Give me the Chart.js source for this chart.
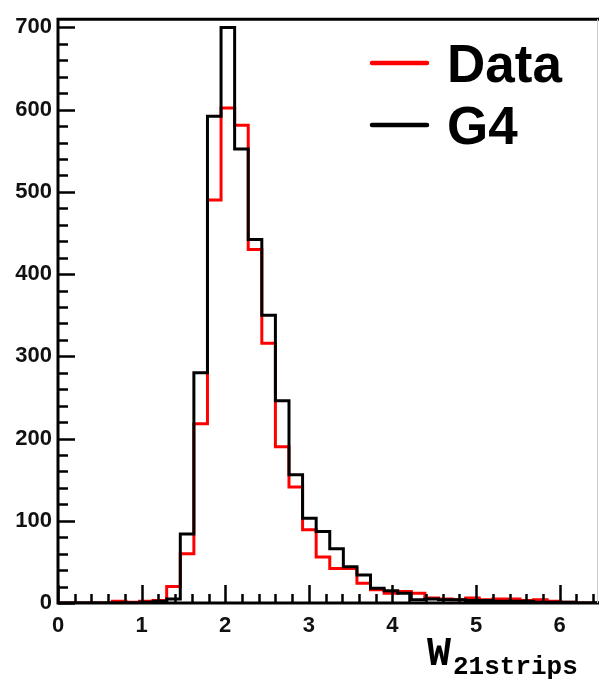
<!DOCTYPE html>
<html>
<head>
<meta charset="utf-8">
<script src="https://cdn.jsdelivr.net/npm/chart.js@4.4.1/dist/chart.umd.min.js"></script>
<style>
  html, body { margin: 0; padding: 0; background: #fff; }
  #w21-chart { display: block; }
</style>
</head>
<body>
<canvas id="w21-chart" width="600" height="682"></canvas>
<script>
// --- ข้อมูลฮิสโทแกรม (40 bins, 0 - 6.5) ---
const BIN_EDGES = [
    0, 0.1625, 0.325, 0.4875, 0.65, 0.8125, 0.975, 1.1375, 1.3, 1.4625,
    1.625, 1.7875, 1.95, 2.1125, 2.275, 2.4375, 2.6, 2.7625, 2.925, 3.0875,
    3.25, 3.4125, 3.575, 3.7375, 3.9, 4.0625, 4.225, 4.3875, 4.55, 4.7125,
    4.875, 5.0375, 5.2, 5.3625, 5.525, 5.6875, 5.85, 6.0125, 6.175, 6.3375, 6.5
];
const DATA_COUNTS = [
    0, 0, 0, 0, 2, 1, 2, 3, 20, 60,
    218, 490, 602, 581, 430, 316, 190, 141, 89, 56,
    42, 42, 24, 16, 12, 14, 12, 6, 5, 4,
    6, 4, 5, 5, 3, 4, 2, 1, 0, 0
];
const G4_COUNTS = [
    0, 0, 0, 0, 0, 0, 1, 2, 5, 84,
    280, 592, 700, 552, 442, 350, 246, 156, 103, 87,
    66, 44, 34, 18, 15, 12, 4, 5, 4, 4,
    3, 3, 2, 2, 2, 1, 1, 1, 0, 0
];
const X_TICKS = [0, 1, 2, 3, 4, 5, 6];
const Y_TICKS = [0, 100, 200, 300, 400, 500, 600, 700];
const LEGEND_LABELS = ['Data', 'G4'];
const X_TITLE = 'W';
const X_TITLE_SUB = '21strips';

const TICK_FONT = { family: '"Liberation Sans", Arial, sans-serif', size: 22, weight: 'bold' };

// แปลง counts เป็นจุดบนขอบซ้ายของแต่ละ bin (ใช้ stepped line)
function toSteps(counts) {
    return BIN_EDGES.map((edge, i) => ({ x: edge, y: i < counts.length ? counts[i] : 0 }));
}

// --- plugin: กรอบ, ขีด tick ด้านใน, legend และชื่อแกน ---
const rootStyle = {
    id: 'rootStyle',
    afterDraw(chart) {
        const { ctx, chartArea: a, scales: { x, y } } = chart;
        ctx.save();

        // ขีด tick (หันเข้าด้านใน)
        ctx.strokeStyle = '#000';
        ctx.lineWidth = 2.5;
        ctx.beginPath();
        for (let v = 0; v <= 710; v += 20) {
            const py = Math.round(y.getPixelForValue(v)) + 0.5;
            const len = v % 100 === 0 ? 17 : 10;
            ctx.moveTo(a.left, py);
            ctx.lineTo(a.left + len, py);
        }
        for (let k = 0; k <= 32; k++) {
            const v = k * 0.2;
            const px = Math.round(x.getPixelForValue(v)) + 0.5;
            const len = k % 5 === 0 ? 18 : 9;
            ctx.moveTo(px, a.bottom);
            ctx.lineTo(px, a.bottom - len);
        }
        ctx.stroke();

        // กรอบ
        ctx.lineWidth = 3;
        ctx.beginPath();
        ctx.moveTo(a.right, a.top);
        ctx.lineTo(a.left, a.top);
        ctx.lineTo(a.left, a.bottom);
        ctx.lineTo(a.right, a.bottom);
        ctx.stroke();
        ctx.strokeStyle = '#ccc';
        ctx.lineWidth = 1;
        ctx.beginPath();
        ctx.moveTo(a.right - 1.5, a.top);
        ctx.lineTo(a.right - 1.5, a.bottom);
        ctx.stroke();

        // legend
        const colors = chart.data.datasets.map(d => d.borderColor);
        const rows = [63, 125];
        ctx.lineCap = 'round';
        ctx.lineWidth = 4.5;
        ctx.font = 'bold 53px "Liberation Sans", Arial, sans-serif';
        ctx.textBaseline = 'alphabetic';
        ctx.textAlign = 'left';
        LEGEND_LABELS.forEach((label, i) => {
            ctx.strokeStyle = colors[i];
            ctx.beginPath();
            ctx.moveTo(372, rows[i]);
            ctx.lineTo(427, rows[i]);
            ctx.stroke();
            ctx.fillStyle = '#000';
            ctx.fillText(label, 447, rows[i] + 19);
        });

        // ชื่อแกน x
        ctx.fillStyle = '#000';
        ctx.font = 'bold 40px "Liberation Mono", "Courier New", monospace';
        ctx.fillText(X_TITLE, 427, 665);
        ctx.font = 'bold 26px "Liberation Mono", "Courier New", monospace';
        ctx.fillText(X_TITLE_SUB, 453, 674);

        ctx.restore();
    }
};

const ctx = document.getElementById('w21-chart').getContext('2d');
const w21Chart = new Chart(ctx, {
    type: 'line',
    data: {
        datasets: [
            {
                label: LEGEND_LABELS[0],
                data: toSteps(DATA_COUNTS),
                borderColor: '#ff0000',
                borderWidth: 3,
                stepped: true,
                pointRadius: 0,
                fill: false,
                borderJoinStyle: 'miter',
                order: 1
            },
            {
                label: LEGEND_LABELS[1],
                data: toSteps(G4_COUNTS),
                borderColor: '#000000',
                borderWidth: 3,
                stepped: true,
                pointRadius: 0,
                fill: false,
                borderJoinStyle: 'miter',
                order: 0
            }
        ]
    },
    options: {
        responsive: false,
        animation: false,
        devicePixelRatio: 1,
        layout: { padding: { top: 11, right: 1, left: 0, bottom: 0 } },
        plugins: {
            legend: { display: false },
            tooltip: { enabled: false }
        },
        scales: {
            x: {
                type: 'linear',
                min: 0,
                max: 6.47,
                afterFit: scale => { scale.height = 79; },
                afterBuildTicks: scale => { scale.ticks = X_TICKS.map(v => ({ value: v })); },
                grid: { display: false, drawTicks: false },
                border: { display: false },
                ticks: {
                    font: TICK_FONT,
                    color: '#111',
                    padding: 10,
                    maxRotation: 0,
                    autoSkip: false
                }
            },
            y: {
                type: 'linear',
                min: 0,
                max: 710,
                afterFit: scale => { scale.width = 58; },
                afterBuildTicks: scale => { scale.ticks = Y_TICKS.map(v => ({ value: v })); },
                grid: { display: false, drawTicks: false },
                border: { display: false },
                ticks: {
                    font: TICK_FONT,
                    color: '#111',
                    padding: 6,
                    autoSkip: false
                }
            }
        }
    },
    plugins: [rootStyle]
});
</script>
</body>
</html>
